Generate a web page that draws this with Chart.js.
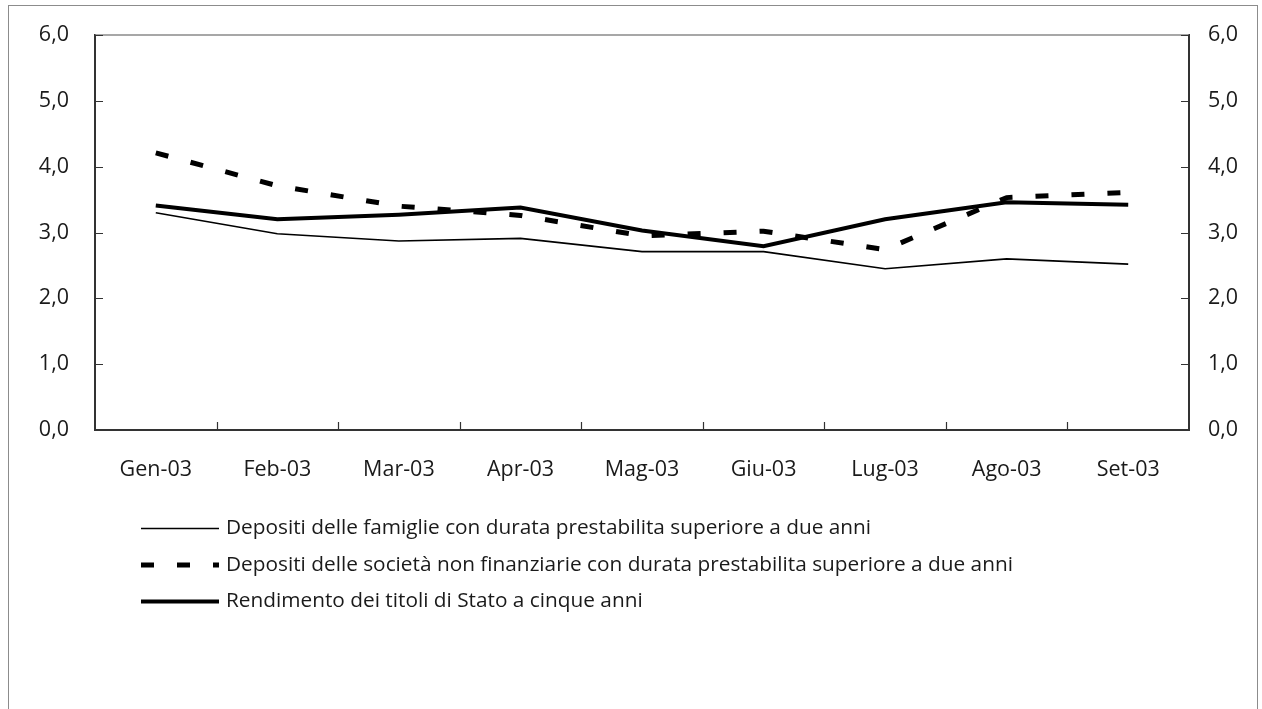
<!DOCTYPE html>
<html>
<head>
<meta charset="utf-8">
<script src="https://cdn.jsdelivr.net/npm/chart.js@4"></script>
<style>
  html, body { margin: 0; padding: 0; background: #fff; overflow: hidden; }
  #frame { position: absolute; left: 8px; top: 5px; width: 1248px; height: 760px; border: 1px solid #8c8c8c; }
  #wrap { position: absolute; left: 0; top: 0; width: 1262px; height: 709px; }
</style>
</head>
<body>
<div id="frame"></div>
<div id="wrap"><canvas id="chart" width="1262" height="709"></canvas></div>
<script>
// ---- data ----
const months = ["Gen-03", "Feb-03", "Mar-03", "Apr-03", "Mag-03", "Giu-03", "Lug-03", "Ago-03", "Set-03"];
const famiglie = [3.30, 2.98, 2.87, 2.91, 2.71, 2.71, 2.45, 2.60, 2.52];
const societa = [4.21, 3.71, 3.40, 3.26, 2.95, 3.02, 2.74, 3.53, 3.61];
const rendimento = [3.41, 3.20, 3.27, 3.38, 3.03, 2.79, 3.20, 3.46, 3.42];
const yTicks = [0, 1, 2, 3, 4, 5, 6];

const FONT = "'Open Sans', 'Liberation Sans', sans-serif";
const TEXT = "#1a1a1a";
const AXIS = "#333333";
const fmt = v => v.toFixed(1).replace(".", ",");

// inward tick marks + grey top edge of the plot frame
const frameTicks = {
  id: "frameTicks",
  afterDatasetsDraw(chart) {
    const { ctx, chartArea: a, scales } = chart;
    ctx.save();
    ctx.strokeStyle = "#8a8a8a";
    ctx.lineWidth = 1.5;
    ctx.beginPath();
    ctx.moveTo(a.left, a.top);
    ctx.lineTo(a.right, a.top);
    ctx.stroke();

    ctx.strokeStyle = AXIS;
    ctx.lineWidth = 1.2;
    ctx.beginPath();
    yTicks.forEach(v => {
      const y = Math.round(scales.y.getPixelForValue(v)) + 0.5;
      ctx.moveTo(a.left, y); ctx.lineTo(a.left + 8, y);
      ctx.moveTo(a.right, y); ctx.lineTo(a.right - 8, y);
    });
    for (let i = 1; i < months.length; i++) {
      const x = Math.round((scales.x.getPixelForValue(i - 1) + scales.x.getPixelForValue(i)) / 2) + 0.5;
      ctx.moveTo(x, a.bottom); ctx.lineTo(x, a.bottom - 8);
    }
    ctx.stroke();
    ctx.restore();
  },
};

// legend drawn as stacked rows under the axis
const rowLegend = {
  id: "rowLegend",
  afterDraw(chart) {
    const { ctx, chartArea: a } = chart;
    ctx.save();
    ctx.font = "20.8px " + FONT;
    ctx.fillStyle = TEXT;
    ctx.textBaseline = "middle";
    chart.data.datasets.forEach((ds, i) => {
      const y = a.bottom + 98.5 + i * 36.5;
      ctx.strokeStyle = ds.borderColor;
      ctx.lineWidth = ds.borderWidth;
      ctx.setLineDash(ds.borderDash || []);
      ctx.beginPath();
      ctx.moveTo(141, y);
      ctx.lineTo(219, y);
      ctx.stroke();
      ctx.setLineDash([]);
      ctx.fillText(ds.label, 226, y);
    });
    ctx.restore();
  },
};

const tickFont = { family: FONT, size: 21.5 };

// fixed axis widths, no extra top/bottom room for the end labels
const fitY = w => s => { s.width = w; s.paddingTop = 0; s.paddingBottom = 0; };

new Chart(document.getElementById("chart"), {
  type: "line",
  data: {
    labels: months,
    datasets: [
      {
        label: "Depositi delle famiglie con durata prestabilita superiore a due anni",
        data: famiglie,
        borderColor: "#000",
        borderWidth: 1.6,
        pointRadius: 0,
        tension: 0,
      },
      {
        label: "Depositi delle società non finanziarie con durata prestabilita superiore a due anni",
        data: societa,
        borderColor: "#000",
        borderWidth: 5,
        borderDash: [13, 23],
        pointRadius: 0,
        tension: 0,
      },
      {
        label: "Rendimento dei titoli di Stato a cinque anni",
        data: rendimento,
        borderColor: "#000",
        borderWidth: 4,
        pointRadius: 0,
        tension: 0,
      },
    ],
  },
  options: {
    responsive: false,
    animation: false,
    layout: { padding: { top: 35, left: 0, right: 0, bottom: 0 } },
    plugins: {
      legend: { display: false },
      tooltip: { enabled: false },
    },
    scales: {
      x: {
        offset: true,
        grid: { display: false, drawTicks: false, tickLength: 0 },
        border: { color: AXIS, width: 2 },
        ticks: { color: TEXT, font: tickFont, padding: 27, maxRotation: 0, autoSkip: false },
        afterFit: s => { s.height = 279; },
      },
      y: {
        min: 0, max: 6,
        grid: { display: false, drawTicks: false, tickLength: 0 },
        border: { color: AXIS, width: 2 },
        ticks: { stepSize: 1, color: TEXT, font: tickFont, padding: 26, callback: fmt },
        afterFit: fitY(95),
      },
      y2: {
        position: "right",
        min: 0, max: 6,
        grid: { display: false, drawTicks: false, tickLength: 0 },
        border: { color: AXIS, width: 2 },
        ticks: { stepSize: 1, color: TEXT, font: tickFont, padding: 19, callback: fmt },
        afterFit: fitY(73),
      },
    },
  },
  plugins: [frameTicks, rowLegend],
});
</script>
</body>
</html>
